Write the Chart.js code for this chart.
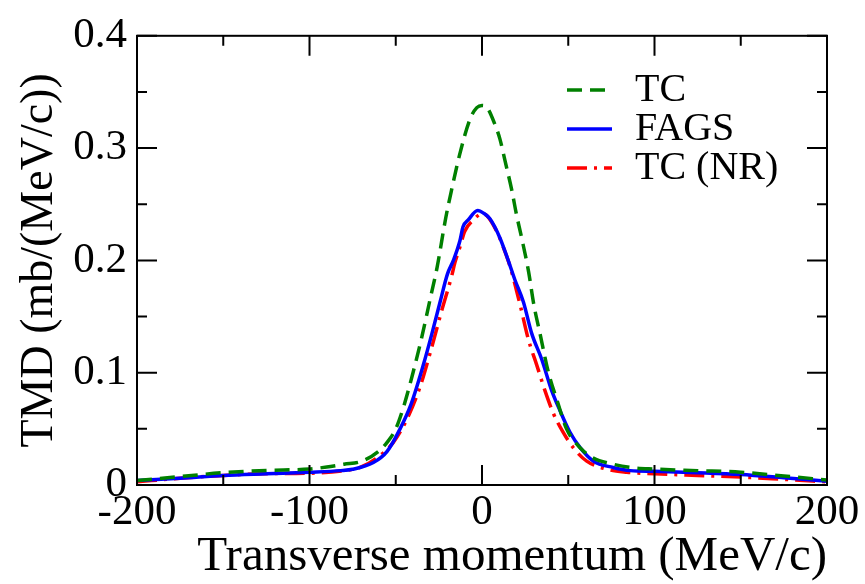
<!DOCTYPE html>
<html>
<head>
<meta charset="utf-8">
<script src="https://cdn.jsdelivr.net/npm/chart.js@4"></script>
<style>
  html, body { margin: 0; padding: 0; background: #fff; overflow: hidden; }
</style>
</head>
<body>
<canvas id="myChart" width="865" height="584"></canvas>
<script>
// TC
let tcX = [-200, -175, -150, -125, -100, -90, -80, -70, -60, -55, -50, -45, -40, -35, -30, -26, -21, -17.6, -13, -7, -3, 0,
  3, 7.5, 10.4, 13.3, 17.2, 20.1, 23, 27, 30, 33.6, 38.4, 44, 49, 57, 64.5, 76, 86, 100, 125, 150, 175, 200]
let tcY = [0.004, 0.0075, 0.011, 0.013, 0.0142, 0.016, 0.0185, 0.021, 0.030, 0.038, 0.050, 0.072, 0.100, 0.131, 0.166, 0.194, 0.238, 0.263, 0.294, 0.3256, 0.336, 0.338,
  0.336, 0.321, 0.308, 0.289, 0.263, 0.240, 0.220, 0.190, 0.161, 0.135, 0.101, 0.073, 0.050, 0.033, 0.024, 0.0185, 0.0156, 0.0142, 0.0128, 0.0114, 0.008, 0.0045]

// FAGS
let fagsX = [-200, -175, -150, -125, -100, -82, -75, -63, -55, -47.5, -41, -34, -29, -24.3, -20, -16.6, -12.8, -11, -8, -2.5, 1,
  4.6, 10.4, 15.2, 19, 24, 28.8, 34.6, 40.4, 45, 51, 57, 64.5, 76, 86, 100, 125, 150, 175, 200]
let fagsY = [0.004, 0.006, 0.0085, 0.010, 0.0114, 0.0128, 0.014, 0.020, 0.030, 0.050, 0.0725, 0.107, 0.135, 0.163, 0.188, 0.200, 0.2175, 0.230, 0.236, 0.2445, 0.242,
  0.237, 0.220, 0.200, 0.183, 0.163, 0.135, 0.112, 0.084, 0.067, 0.047, 0.033, 0.0213, 0.0156, 0.0128, 0.0122, 0.011, 0.0094, 0.0065, 0.0034]

// TC (NR)
let nrX = [-200, -175, -150, -127, -100, -80, -70.7, -61, -51.4, -43.7, -36, -30, -23.4, -17.6, -15.7, -12.8, -10, -5, 0,
  2.7, 8.5, 12.3, 16.2, 22, 27, 31.7, 36.5, 41.3, 47, 53, 60.7, 72, 84, 100, 125, 150, 175, 200]
let nrY = [0.0028, 0.006, 0.0085, 0.010, 0.0105, 0.0128, 0.0156, 0.024, 0.038, 0.058, 0.087, 0.118, 0.155, 0.186, 0.198, 0.212, 0.226, 0.236, 0.2415,
  0.240, 0.226, 0.212, 0.195, 0.161, 0.129, 0.107, 0.084, 0.064, 0.047, 0.033, 0.0213, 0.0142, 0.0114, 0.010, 0.0085, 0.0071, 0.005, 0.0028]

let xTicks = [-200, -100, 0, 100, 200]
let yTicks = [0, 0.1, 0.2, 0.3, 0.4]

const toPts = (xs, ys) => xs.map((x, i) => ({x: x, y: ys[i]}));

const font = '"Liberation Serif", "Times New Roman", "DejaVu Serif", serif';

// frame with inward ticks on all four sides, plus a legend in the top right
const framePlugin = {
  id: 'frame',
  afterDatasetsDraw(chart) {
    const {ctx, chartArea: a, scales: {x, y}} = chart;
    ctx.save();
    ctx.strokeStyle = '#000';
    ctx.lineWidth = 2;
    ctx.strokeRect(a.left, a.top, a.right - a.left, a.bottom - a.top);
    ctx.beginPath();
    for (let v = -200; v <= 200; v += 50) {
      const px = x.getPixelForValue(v);
      const len = v % 100 === 0 ? 20 : 10;
      ctx.moveTo(px, a.bottom); ctx.lineTo(px, a.bottom - len);
      ctx.moveTo(px, a.top); ctx.lineTo(px, a.top + len);
    }
    for (let k = 0; k <= 8; k++) {
      const py = y.getPixelForValue(k * 0.05);
      const len = k % 2 === 0 ? 20 : 10;
      ctx.moveTo(a.left, py); ctx.lineTo(a.left + len, py);
      ctx.moveTo(a.right, py); ctx.lineTo(a.right - len, py);
    }
    ctx.stroke();

    // legend
    const lx = 567, tx = 635;
    let ly = 90;
    chart.data.datasets.forEach(ds => {
      ctx.beginPath();
      ctx.strokeStyle = ds.borderColor;
      ctx.lineWidth = ds.borderWidth;
      ctx.setLineDash(ds.borderDash || []);
      ctx.moveTo(lx, ly); ctx.lineTo(lx + 45, ly);
      ctx.stroke();
      ctx.setLineDash([]);
      ctx.fillStyle = '#000';
      ctx.font = '40px ' + font;
      ctx.textBaseline = 'middle';
      ctx.fillText(ds.label, tx, ly);
      ly += 39;
    });
    ctx.restore();
  }
};

const ctx = document.getElementById('myChart');

new Chart(ctx, {
  type: 'scatter',
  data: {
    datasets: [
      {
        label: 'TC',
        data: toPts(tcX, tcY),
        showLine: true,
        borderColor: 'rgb(0, 128, 0)',
        borderWidth: 3.5,
        borderDash: [15, 8],
        pointRadius: 0,
        cubicInterpolationMode: 'monotone'
      },
      {
        label: 'FAGS',
        data: toPts(fagsX, fagsY),
        showLine: true,
        borderColor: 'rgb(0, 0, 255)',
        borderWidth: 3.5,
        pointRadius: 0,
        cubicInterpolationMode: 'monotone'
      },
      {
        label: 'TC (NR)',
        data: toPts(nrX, nrY),
        showLine: true,
        borderColor: 'rgb(255, 0, 0)',
        borderWidth: 3.5,
        borderDash: [20, 7, 3, 7],
        pointRadius: 0,
        cubicInterpolationMode: 'monotone'
      }
    ]
  },
  options: {
    responsive: false,
    animation: false,
    layout: { padding: { left: 0, top: 16, right: 38, bottom: 0 } },
    plugins: { legend: { display: false }, tooltip: { enabled: false } },
    scales: {
      x: {
        type: 'linear',
        min: -200,
        max: 200,
        afterBuildTicks: (s) => { s.ticks = xTicks.map(v => ({value: v})); },
        afterFit: (s) => { s.height = 99; },
        grid: { display: false, drawTicks: false },
        border: { display: false },
        ticks: { color: '#000', padding: 2, maxRotation: 0, font: { family: font, size: 43 } },
        title: {
          display: true,
          text: 'Transverse momentum (MeV/c)',
          color: '#000',
          align: 'end',
          padding: { top: 0, bottom: 2 },
          font: { family: font, size: 49, lineHeight: 1 }
        }
      },
      y: {
        min: 0,
        max: 0.4,
        afterBuildTicks: (s) => { s.ticks = yTicks.map(v => ({value: v})); },
        afterFit: (s) => { s.width = 137; },
        grid: { display: false, drawTicks: false },
        border: { display: false },
        ticks: {
          color: '#000',
          padding: 10,
          font: { family: font, size: 43 },
          callback: (v) => v === 0 ? '0' : v.toFixed(1)
        },
        title: {
          display: true,
          text: 'TMD (mb/(MeV/c))',
          color: '#000',
          padding: { top: 17, bottom: 0 },
          font: { family: font, size: 46, lineHeight: 1 }
        }
      }
    }
  },
  plugins: [framePlugin]
});
</script>
</body>
</html>
